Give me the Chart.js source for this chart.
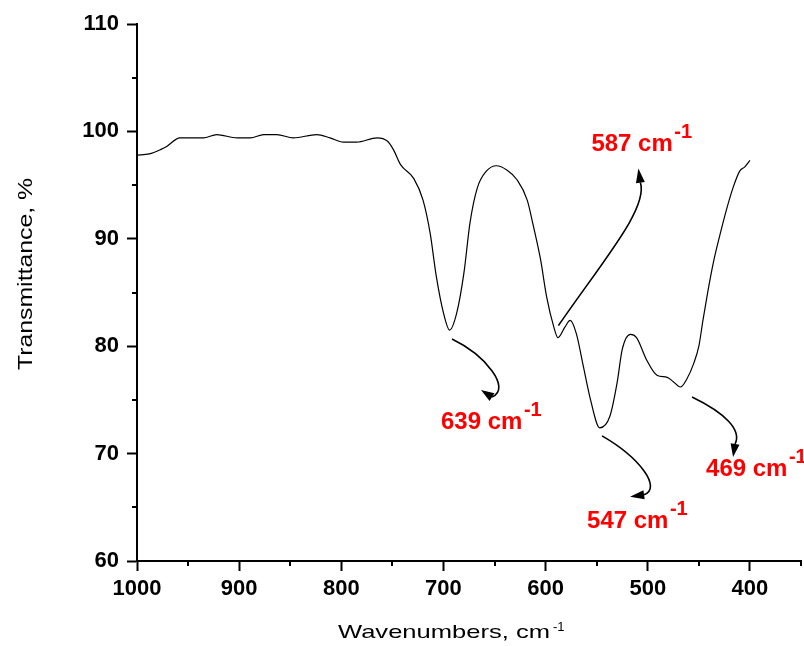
<!DOCTYPE html>
<html>
<head>
<meta charset="utf-8">
<script src="https://cdn.jsdelivr.net/npm/chart.js@4.4.1/dist/chart.umd.min.js"></script>
<style>
    html, body { margin: 0; padding: 0; background: #fff; }
    #wrap { width: 804px; height: 646px; }
</style>
</head>
<body>
<div id="wrap"><canvas id="ftirChart" width="804" height="646"></canvas></div>
<script>
// Spectrum (wavenumber, cm-1 / transmittance, %)
const wavenumbers = [1000, 988, 977, 971, 958, 935, 922, 902, 889, 876, 863, 847, 824, 811, 798, 785, 765, 755, 749, 742,
    729, 720, 713, 707, 700, 694, 687, 680, 674, 667, 658, 648, 638, 628, 618, 612, 605, 599, 592, 588,
    581, 576, 570, 563, 556, 547, 537, 530, 525, 517, 511, 501, 491, 481, 475, 468, 462, 455, 450, 446,
    441, 436, 429, 423, 416, 410, 405, 400];
const transmittance = [97.8, 97.9, 98.3, 98.6, 99.4, 99.4, 99.7, 99.4, 99.4, 99.7, 99.7, 99.4, 99.7, 99.4, 99.0, 99.0, 99.4, 99.1, 98.3, 96.9,
    95.6, 93.6, 90.5, 86.5, 83.1, 81.5, 83.1, 86.8, 91.5, 94.7, 96.3, 96.8, 96.4, 95.5, 93.6, 91.2, 88.1, 84.6, 81.8, 80.8,
    81.8, 82.4, 81.2, 78.1, 75.0, 72.4, 73.5, 76.6, 79.7, 81.1, 80.8, 78.7, 77.3, 77.1, 76.7, 76.2, 76.9, 78.4, 80.0, 82.4,
    85.2, 87.7, 90.5, 92.7, 94.9, 96.3, 96.7, 97.3];

const xMajorTicks = [1000, 900, 800, 700, 600, 500, 400];
const xMinorTicks = [950, 850, 750, 650, 550, 450, 350];
const yMajorTicks = [60, 70, 80, 90, 100, 110];
const yMinorTicks = [65, 75, 85, 95, 105];

// Peak annotations: label text and the trough they point at
const peakLabels = ['639', '587', '547', '469'];
const peakWavenumbers = [693.6, 587.5, 546.7, 468.4];
const peakValues = [81.5, 80.8, 72.4, 76.2];

// arrow shapes in px, relative to the trough: start, ctrl1, ctrl2, end, tip, label
const arrowShapes = [
    { s: [2, 9], c1: [35, 25], c2: [62, 58], e: [42, 67], t: [31, 60], label: [-9, 99] },
    { s: [0, -12], c1: [47, -80], c2: [90, -130], e: [82, -155], t: [80, -169], label: [33, -187] },
    { s: [2, 8], c1: [40, 30], c2: [62, 60], e: [44, 67], t: [30, 69], label: [-13, 100] },
    { s: [12, 10], c1: [45, 26], c2: [62, 43], e: [55, 57], t: [53, 70], label: [26, 89] }
];

const points = wavenumbers.map((w, i) => ({ x: w, y: transmittance[i] }));

const extrasPlugin = {
    id: 'extras',
    afterDraw(chart) {
        const ctx = chart.ctx;
        const xs = chart.scales.x;
        const ys = chart.scales.y;
        const area = chart.chartArea;

        // minor ticks
        ctx.save();
        ctx.strokeStyle = '#000';
        ctx.lineWidth = 2;
        ctx.beginPath();
        xMinorTicks.forEach(v => {
            const px = Math.round(xs.getPixelForValue(v));
            ctx.moveTo(px, area.bottom);
            ctx.lineTo(px, area.bottom + 5);
        });
        yMinorTicks.forEach(v => {
            const py = Math.round(ys.getPixelForValue(v));
            ctx.moveTo(area.left, py);
            ctx.lineTo(area.left - 5, py);
        });
        ctx.stroke();
        ctx.restore();

        // peak arrows + labels
        peakLabels.forEach((lbl, i) => {
            const ax = xs.getPixelForValue(peakWavenumbers[i]);
            const ay = ys.getPixelForValue(peakValues[i]);
            const sh = arrowShapes[i];
            const p = k => [ax + sh[k][0], ay + sh[k][1]];
            const s = p('s'), c1 = p('c1'), c2 = p('c2'), e = p('e'), t = p('t');

            ctx.save();
            ctx.strokeStyle = '#000';
            ctx.fillStyle = '#000';
            ctx.lineWidth = 1.6;
            ctx.beginPath();
            ctx.moveTo(s[0], s[1]);
            ctx.bezierCurveTo(c1[0], c1[1], c2[0], c2[1], e[0], e[1]);
            ctx.stroke();

            const dx = t[0] - e[0], dy = t[1] - e[1];
            const len = Math.hypot(dx, dy);
            const nx = -dy / len * 4.5, ny = dx / len * 4.5;
            ctx.beginPath();
            ctx.moveTo(t[0], t[1]);
            ctx.lineTo(e[0] + nx, e[1] + ny);
            ctx.lineTo(e[0] - nx, e[1] - ny);
            ctx.closePath();
            ctx.fill();

            const lx = ax + sh.label[0], ly = ay + sh.label[1];
            ctx.fillStyle = '#ff0000';
            ctx.textAlign = 'left';
            ctx.textBaseline = 'alphabetic';
            ctx.font = 'bold 24px Arial, "Liberation Sans", sans-serif';
            const main = lbl + ' cm';
            ctx.fillText(main, lx, ly);
            const w = ctx.measureText(main).width;
            ctx.font = 'bold 20px Arial, "Liberation Sans", sans-serif';
            ctx.fillText('-1', lx + w + 1.5, ly - 13);
            ctx.restore();
        });

        // axis titles
        ctx.save();
        ctx.fillStyle = '#000';
        ctx.textBaseline = 'alphabetic';

        ctx.font = '20px Arial, "Liberation Sans", sans-serif';
        const yTitle = 'Transmittance, %';
        const yW = ctx.measureText(yTitle).width;
        ctx.save();
        ctx.translate(32, 274);
        ctx.rotate(-Math.PI / 2);
        ctx.scale(192 / yW, 1);
        ctx.textAlign = 'center';
        ctx.fillText(yTitle, 0, 0);
        ctx.restore();

        ctx.font = '19px Arial, "Liberation Sans", sans-serif';
        const xTitle = 'Wavenumbers, cm';
        const xW = ctx.measureText(xTitle).width;
        ctx.save();
        ctx.translate(338, 638);
        ctx.scale(212 / xW, 1);
        ctx.textAlign = 'left';
        ctx.fillText(xTitle, 0, 0);
        ctx.restore();
        ctx.font = '13px Arial, "Liberation Sans", sans-serif';
        ctx.textAlign = 'left';
        ctx.fillText('-1', 553, 631);
        ctx.restore();
    }
};

const tickFont = { family: 'Arial, "Liberation Sans", sans-serif', size: 22, weight: 'bold' };

new Chart(document.getElementById('ftirChart'), {
    type: 'line',
    data: {
        datasets: [{
            data: points,
            borderColor: '#000',
            borderWidth: 1.2,
            pointRadius: 0,
            fill: false,
            cubicInterpolationMode: 'monotone'
        }]
    },
    options: {
        responsive: false,
        animation: false,
        devicePixelRatio: 1,
        layout: { padding: { top: 24, right: 3, left: 0, bottom: 0 } },
        plugins: {
            legend: { display: false },
            tooltip: { enabled: false }
        },
        scales: {
            x: {
                type: 'linear',
                reverse: true,
                min: 350,
                max: 1000,
                afterBuildTicks: s => { s.ticks = xMajorTicks.map(v => ({ value: v })); },
                afterFit: s => { s.height = 85; },
                ticks: { font: tickFont, color: '#000', padding: 5, maxRotation: 0, autoSkip: false,
                    callback: v => String(v) },
                grid: { drawOnChartArea: false, drawTicks: true, tickLength: 10, tickWidth: 2, tickColor: '#000' },
                border: { color: '#000', width: 2 }
            },
            y: {
                min: 60,
                max: 110,
                afterBuildTicks: s => { s.ticks = yMajorTicks.map(v => ({ value: v })); },
                afterFit: s => { s.width = 137; },
                ticks: { font: tickFont, color: '#000', padding: 8, callback: v => String(v) },
                grid: { drawOnChartArea: false, drawTicks: true, tickLength: 10, tickWidth: 2, tickColor: '#000' },
                border: { color: '#000', width: 2 }
            }
        }
    },
    plugins: [extrasPlugin]
});
</script>
</body>
</html>
